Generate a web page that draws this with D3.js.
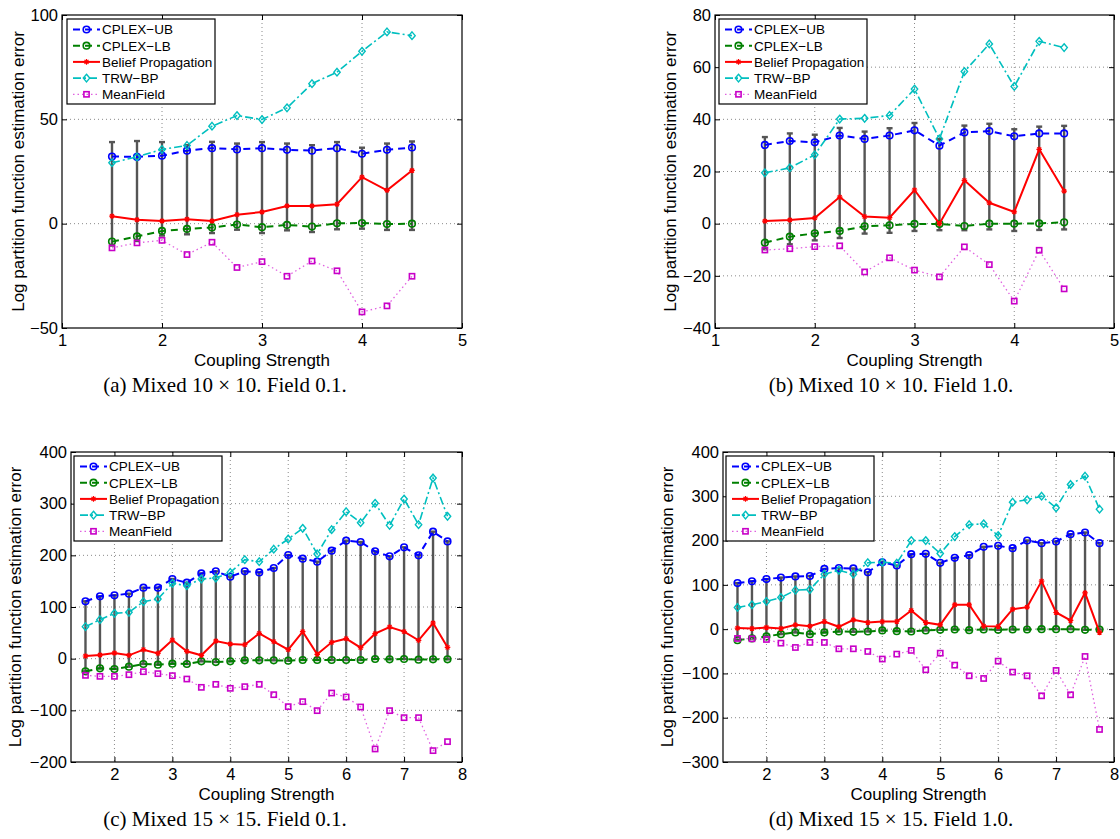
<!DOCTYPE html>
<html><head><meta charset="utf-8">
<script src="https://cdn.jsdelivr.net/npm/d3@7"></script>
<style>body{margin:0;background:#fff}svg{display:block}</style>
</head><body>
<svg id="fig" width="1120" height="839"></svg>
<script>
// ---------- data ----------
const xs10 = [1.5,1.75,2,2.25,2.5,2.75,3,3.25,3.5,3.75,4,4.25,4.5];
const xs15 = [1.5,1.75,2,2.25,2.5,2.75,3,3.25,3.5,3.75,4,4.25,4.5,4.75,5,5.25,5.5,5.75,6,6.25,6.5,6.75,7,7.25,7.5,7.75];

const aUB  = [32.2,32.0,32.6,35.0,36.2,35.6,36.2,35.4,35.0,36.2,33.5,35.4,36.5];
const aLB  = [-8.6,-6.1,-3.5,-2.5,-1.8,-0.4,-1.7,-0.6,-1.4,0.2,0.3,-0.2,0.0];
const aBP  = [3.6,1.9,1.3,2.1,1.3,4.3,5.6,8.5,8.5,9.3,22.3,16.0,25.5];
const aTRW = [29.2,32.0,35.6,37.5,46.7,51.8,49.9,55.5,67.1,72.6,82.6,91.9,90.1];
const aMF  = [-11.6,-9.2,-8.0,-14.8,-8.9,-21.0,-18.2,-25.2,-17.9,-22.6,-42.3,-39.4,-25.2];
const aErrTop = [39.1,39.6,39.1,37.6,39.2,38.4,39.1,38.4,37.6,39.1,36.4,38.4,39.4];
const aErrBot = [-10.5,-8.3,-5.7,-5.1,-4.5,-2.9,-4.5,-3.2,-4.0,-2.7,-2.4,-3.0,-3.0];

const bUB  = [30.2,31.7,31.2,33.8,32.5,33.8,35.8,29.9,35.0,35.5,33.5,34.6,34.6];
const bLB  = [-7.3,-5.0,-3.7,-2.8,-1.0,-0.6,-0.1,-0.1,-0.9,0.0,0.0,0.1,0.5];
const bBP  = [1.0,1.4,2.2,10.2,2.7,2.3,12.9,0.0,16.6,8.0,4.5,28.5,12.5];
const bTRW = [19.5,21.4,26.4,40.1,40.4,41.5,51.6,32.5,58.3,68.9,52.6,69.9,67.5];
const bMF  = [-10.1,-9.6,-8.8,-8.5,-18.5,-13.1,-17.8,-20.4,-8.9,-15.7,-29.7,-10.2,-25.0];
const bErrTop = [33.2,34.6,34.1,36.7,35.3,36.6,38.6,32.5,37.6,38.3,36.2,37.2,37.5];
const bErrBot = [-9.8,-7.9,-6.4,-5.5,-3.8,-3.5,-2.8,-2.5,-2.5,-2.2,-2.8,-2.4,-2.2];

const cUB  = [111,120.6,122.6,125.8,137.4,137.4,154.2,147,165,169,158.7,169,167,175.5,200.6,193.5,187.7,209,228.4,225.8,207.7,198,215.5,200,245.8,227];
const cLB  = [-24.5,-18.7,-20,-15.5,-10.3,-11.6,-9.7,-10.3,-5.2,-6.5,-5.2,-3.2,-3.2,-3.2,-3.9,-2.6,-2.6,-2.6,-2.6,-2.6,-0.6,-1.3,-0.6,-1.9,-1.3,-1.3];
const cBP  = [5.2,7.1,11,6.5,17.4,10.3,36.1,14.2,6.5,34.2,28.4,27.1,49,32.9,17.4,52.3,8.4,31.6,38.7,21.3,48.4,61.3,52.3,35.5,69,21.9];
const cTRW = [62,75.5,87.7,89.7,110.3,115.5,145.8,141.3,154.2,156.1,167,191.6,187.7,212,231.6,252.3,202.6,249.7,284.5,263.2,300.6,258,309,259.4,349.7,275.5];
const cMF  = [-32.3,-34.2,-34.2,-31,-25.2,-29,-32.9,-39.4,-55.5,-49.7,-57.4,-54.2,-49.7,-69.7,-92.9,-83.2,-100.6,-66.5,-74.2,-93.5,-174.8,-100.6,-114.2,-114.2,-178,-160.6];

const dUB  = [104,108,113,116.5,119,120,136,138,137,128.5,151,143.7,169.3,170,149.7,161,167,185.9,188.1,182.8,200.2,194.1,197.9,214.4,218.2,194.1];
const dLB  = [-24.8,-21,-16.5,-11.3,-7.5,-11.3,-7.5,-5.3,-6,-5.3,-3,-4.5,-5.3,-3,-1.5,-0.8,-2.3,-0.8,-1.5,-0.8,-0.8,0,0,0,-1.5,-0.8];
const dBP  = [2.3,1.5,3.8,1.5,9.8,6.8,17.3,5.3,21,15,17,17.3,42,15,9.8,55,55,6.8,6,45,49.7,108.4,37.6,19.6,82,-7.5];
const dTRW = [48.9,54.9,62.5,71.5,88,89.5,124,133,124,150,151,149,200,200,170.8,209,236,237.8,211.4,286.7,292,300.2,273.9,326.6,345.4,270.9];
const dMF  = [-21,-21.8,-23.3,-31.6,-41.4,-30,-30,-44.4,-44.4,-50.4,-67.5,-56.4,-48,-91.8,-54.2,-81.3,-105.3,-111.4,-72.2,-97,-105.3,-150.5,-93.3,-148.2,-61.7,-226.5];

const xTicks10 = [1,2,3,4,5];
const xTicks15 = [2,3,4,5,6,7,8];
const aYTicks = [-50,0,50,100];
const bYTicks = [-40,-20,0,20,40,60,80];
const cYTicks = [-200,-100,0,100,200,300,400];
const dYTicks = [-300,-200,-100,0,100,200,300,400];

const seriesNames = ["CPLEX\u2212UB","CPLEX\u2212LB","Belief Propagation","TRW\u2212BP","MeanField"];
const captions = ["(a) Mixed 10 \u00d7 10. Field 0.1.","(b) Mixed 10 \u00d7 10. Field 1.0.","(c) Mixed 15 \u00d7 15. Field 0.1.","(d) Mixed 15 \u00d7 15. Field 1.0."];
const xLabel = "Coupling Strength";
const yLabel = "Log partition function estimation error";

// ---------- styles ----------
const styles = [
  {color:'#0000ff', line:'#0000ff', dash:'7,5', width:2, marker:'circle'},
  {color:'#008000', line:'#008000', dash:'7,5', width:2, marker:'circle'},
  {color:'#ff0000', line:'#ff0000', dash:null, width:2, marker:'star'},
  {color:'#00bfbf', line:'#00bfbf', dash:'8,3,2,3', width:1.6, marker:'diamond'},
  {color:'#c800c8', line:'#e060e0', dash:'1.5,3', width:1.3, marker:'square'}
];

const panels = [
  {xs:xs10, ser:[aUB,aLB,aBP,aTRW,aMF], et:aErrTop, eb:aErrBot, xd:[1,5], yd:[-50,100], xt:xTicks10, yt:aYTicks,
   box:[62,15,462,328], leg:[67,19], ylx:18, cap:captions[0], capx:225},
  {xs:xs10, ser:[bUB,bLB,bBP,bTRW,bMF], et:bErrTop, eb:bErrBot, xd:[1,5], yd:[-40,80], xt:xTicks10, yt:bYTicks,
   box:[715,15,1114,328], leg:[719,19], ylx:670, cap:captions[1], capx:891},
  {xs:xs15, ser:[cUB,cLB,cBP,cTRW,cMF], et:cUB, eb:cLB, xd:[1.25,8], yd:[-200,400], xt:xTicks15, yt:cYTicks,
   box:[71,452,462,762], leg:[74,456], ylx:15, cap:captions[2], capx:225},
  {xs:xs15, ser:[dUB,dLB,dBP,dTRW,dMF], et:dUB, eb:dLB, xd:[1.25,8], yd:[-300,400], xt:xTicks15, yt:dYTicks,
   box:[723,452,1114,762], leg:[726,456], ylx:667, cap:captions[3], capx:891}
];

const svg = d3.select('#fig');
const SANS = "'Liberation Sans', Arial, Helvetica, sans-serif";
const SERIF = "'Liberation Serif', 'Times New Roman', serif";

function drawMarker(sel, type, color){
  if(type==='circle'){
    sel.append('circle').attr('r',3.3).attr('fill','none').attr('stroke',color).attr('stroke-width',1.6);
  } else if(type==='diamond'){
    sel.append('path').attr('d','M0,-3.8L3.2,0L0,3.8L-3.2,0Z').attr('fill','none').attr('stroke',color).attr('stroke-width',1.4);
  } else if(type==='square'){
    sel.append('rect').attr('x',-2.6).attr('y',-2.6).attr('width',5.2).attr('height',5.2).attr('fill','none').attr('stroke',color).attr('stroke-width',1.6);
  } else if(type==='star'){
    sel.append('path').attr('d','M-2.8,0H2.8M0,-2.8V2.8M-2,-2L2,2M-2,2L2,-2').attr('fill','none').attr('stroke',color).attr('stroke-width',1.2);
  }
}

panels.forEach(p=>{
  const [L,T,R,B] = p.box;
  const x = d3.scaleLinear().domain(p.xd).range([L,R]);
  const y = d3.scaleLinear().domain(p.yd).range([B,T]);
  const g = svg.append('g');

  // grid
  g.append('g').selectAll('line').data(p.xt.filter(v=>v>p.xd[0]&&v<p.xd[1])).join('line')
    .attr('x1',d=>x(d)).attr('x2',d=>x(d)).attr('y1',T).attr('y2',B)
    .attr('stroke','#8a8a8a').attr('stroke-width',1).attr('stroke-dasharray','1,3');
  g.append('g').selectAll('line').data(p.yt.filter(v=>v>p.yd[0]&&v<p.yd[1])).join('line')
    .attr('y1',d=>y(d)).attr('y2',d=>y(d)).attr('x1',L).attr('x2',R)
    .attr('stroke','#8a8a8a').attr('stroke-width',1).attr('stroke-dasharray','1,3');

  // axes
  const fmt = d3.format('');
  const axB = g.append('g').attr('transform',`translate(0,${B})`)
    .call(d3.axisBottom(x).tickValues(p.xt).tickSize(-5).tickPadding(6).tickFormat(fmt));
  const axT = g.append('g').attr('transform',`translate(0,${T})`)
    .call(d3.axisTop(x).tickValues(p.xt).tickSize(-5).tickFormat(''));
  const axL = g.append('g').attr('transform',`translate(${L},0)`)
    .call(d3.axisLeft(y).tickValues(p.yt).tickSize(-5).tickPadding(4).tickFormat(fmt));
  const axR = g.append('g').attr('transform',`translate(${R},0)`)
    .call(d3.axisRight(y).tickValues(p.yt).tickSize(-5).tickFormat(''));
  [axB,axT,axL,axR].forEach(a=>{
    a.select('.domain').remove();
    a.selectAll('.tick line').attr('stroke','#000').attr('stroke-width',1);
    a.selectAll('.tick text').attr('font-family',SANS).attr('font-size',16.5).attr('fill','#000');
  });

  // error bars
  const eg = g.append('g').attr('stroke','#555').attr('stroke-width',2.4).attr('fill','none');
  p.xs.forEach((xv,i)=>{
    const cx = x(xv), y1 = y(p.et[i]), y2 = y(p.eb[i]);
    eg.append('line').attr('x1',cx).attr('x2',cx).attr('y1',y1).attr('y2',y2);
    eg.append('line').attr('x1',cx-3).attr('x2',cx+3).attr('y1',y1).attr('y2',y1);
    eg.append('line').attr('x1',cx-3).attr('x2',cx+3).attr('y1',y2).attr('y2',y2);
  });

  // series
  const line = d3.line().x(d=>x(d[0])).y(d=>y(d[1]));
  p.ser.forEach((vals,si)=>{
    const st = styles[si];
    const pts = p.xs.map((xv,i)=>[xv,vals[i]]);
    g.append('path').attr('d',line(pts)).attr('fill','none').attr('stroke',st.line)
      .attr('stroke-width',st.width).attr('stroke-dasharray',st.dash);
    const mg = g.append('g');
    pts.forEach(pt=>{
      const m = mg.append('g').attr('transform',`translate(${x(pt[0])},${y(pt[1])})`);
      drawMarker(m, st.marker, st.color);
    });
  });

  // box
  g.append('rect').attr('x',L).attr('y',T).attr('width',R-L).attr('height',B-T)
    .attr('fill','none').attr('stroke','#000').attr('stroke-width',1.2);

  // legend
  const [lx,ly] = p.leg;
  const lg = g.append('g');
  lg.append('rect').attr('x',lx).attr('y',ly).attr('width',148).attr('height',85)
    .attr('fill','#fff').attr('stroke','#000').attr('stroke-width',1.2);
  seriesNames.forEach((nm,i)=>{
    const st = styles[i];
    const yy = ly + 10.5 + i*16.2;
    lg.append('line').attr('x1',lx+6).attr('x2',lx+33).attr('y1',yy).attr('y2',yy)
      .attr('stroke',st.line).attr('stroke-width',st.width).attr('stroke-dasharray',st.dash);
    const m = lg.append('g').attr('transform',`translate(${lx+19.5},${yy})`);
    drawMarker(m, st.marker, st.color);
    lg.append('text').attr('x',lx+35).attr('y',yy).attr('dy','0.36em')
      .attr('font-family',SANS).attr('font-size',13.5).text(nm);
  });

  // labels
  g.append('text').attr('x',(L+R)/2).attr('y',B+38).attr('text-anchor','middle')
    .attr('font-family',SANS).attr('font-size',17).text(xLabel);
  g.append('text').attr('transform',`translate(${p.ylx},${(T+B)/2}) rotate(-90)`).attr('dy','0.35em')
    .attr('text-anchor','middle').attr('font-family',SANS).attr('font-size',17).text(yLabel);
  g.append('text').attr('x',p.capx).attr('y',B+64).attr('text-anchor','middle')
    .attr('font-family',SERIF).attr('font-size',21).text(p.cap);
});
</script>
</body></html>
